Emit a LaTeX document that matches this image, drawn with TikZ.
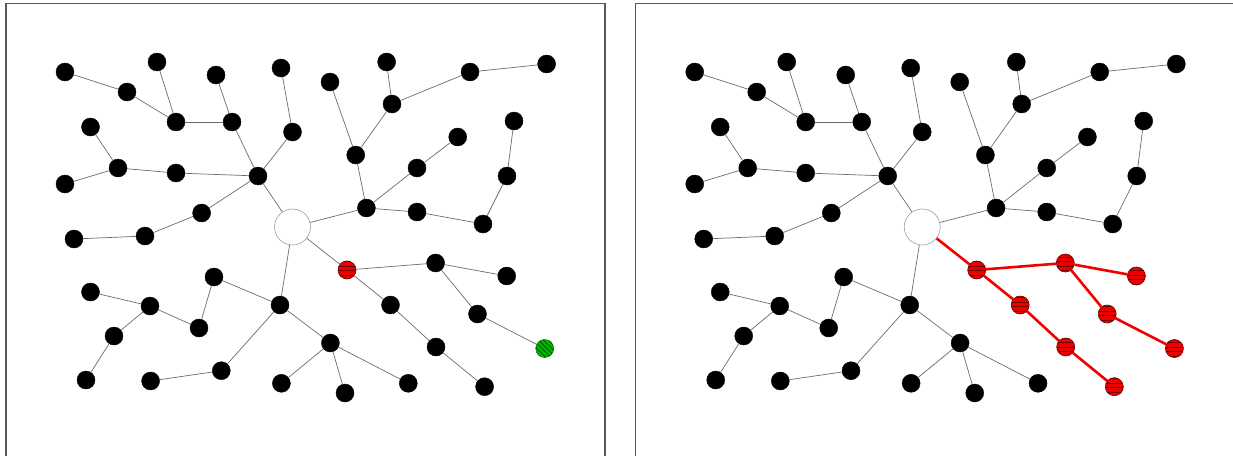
\documentclass[tikz,border=0pt]{standalone}
\usetikzlibrary{patterns.meta}
\begin{document}
\begin{tikzpicture}[x=1pt,y=-1pt,
  blk/.style={circle,fill=black,draw=black,inner sep=0pt,minimum size=18pt},
  rednode/.style={circle,draw=red!40!black,line width=0.6pt,fill=red!92!black,inner sep=0pt,minimum size=18pt,
    postaction={pattern={Lines[angle=0,distance=4.5pt,line width=0.8pt]},pattern color=red!45!black}},
  greennode/.style={circle,draw=green!45!black,line width=0.5pt,fill=green!72!black,inner sep=0pt,minimum size=18pt,
    postaction={pattern={Lines[angle=-45,distance=3.5pt,line width=0.9pt]},pattern color=green!35!black}},
  hub/.style={circle,draw=gray!75,fill=white,inner sep=0pt,minimum size=36pt,line width=0.6pt},
  edge/.style={draw=gray!85!black,line width=0.7pt},
  redge/.style={draw=red!95!black,line width=2.6pt},
  frame/.style={draw=black!65,line width=1.3pt}
]
\useasboundingbox (0,0) rectangle (1233,455);
\clip (0,0) rectangle (1233,455);
\fill[white] (0,0) rectangle (1233,455);

\def\commonnodes{1/65/72,2/127/92,3/157/62,4/216/75,5/281/68,6/330/82,7/386.6/62,8/470/72,9/546.6/64,
10/176/122,11/232/122,12/292.5/132,13/392/104,14/90.5/127,15/118/168,16/176/173,17/258/176,18/355.7/155,
19/457.7/137,20/514/121,21/65/184,22/417/168,23/507/176,24/201.6/213,25/366.4/208,26/417/212,27/483/224,
28/74/239,29/145/236,34/90.5/292,35/150/306,36/214/277,37/280/305,38/199/328,41/114/336,42/330.4/343,
45/86/380,46/150.6/381,47/221.3/370.7,48/281.4/383.3,49/345/393,50/408.3/383.3}
\def\subnodes{32/435.6/263,33/506.7/276,39/390.5/305,40/477.5/314,43/436/347,51/484.6/386.7}
\def\commonedges{1/2,2/10,3/10,10/11,4/11,11/17,5/12,12/17,17/16,16/15,15/14,15/21,17/24,24/29,29/28,17/30,
30/25,25/18,18/6,18/13,13/7,13/8,8/9,25/22,22/19,25/26,26/27,27/23,23/20,
30/37,37/36,36/38,38/35,35/34,35/41,41/45,37/47,47/46,37/42,42/48,42/49,42/50}
\def\subedges{30/31,31/32,32/33,32/40,40/44,31/39,39/43,43/51}

% left panel
\draw[frame] (6,3.5) rectangle (605,480);
\begin{scope}[name prefix=L-]
  \node[hub] (n30) at (292.5,227) {};
  \foreach \n/\x/\y in \commonnodes {\node[blk] (n\n) at (\x,\y) {};}
  \foreach \n/\x/\y in \subnodes {\node[blk] (n\n) at (\x,\y) {};}
  \node[rednode] (n31) at (347,270) {};
  \node[greennode] (n44) at (544.7,348.5) {};
  \foreach \a/\b in \commonedges {\draw[edge] (n\a) -- (n\b);}
  \foreach \a/\b in \subedges {\draw[edge] (n\a) -- (n\b);}
\end{scope}

% right panel
\draw[frame] (635.5,3.5) rectangle (1250,480);
\begin{scope}[xshift=629.7pt,name prefix=R-]
  \node[hub] (n30) at (292.5,227) {};
  \foreach \n/\x/\y in \commonnodes {\node[blk] (n\n) at (\x,\y) {};}
  \foreach \n/\x/\y in \subnodes {\node[rednode] (n\n) at (\x,\y) {};}
  \node[rednode] (n31) at (347,270) {};
  \node[rednode] (n44) at (544.7,348.5) {};
  \foreach \a/\b in \commonedges {\draw[edge] (n\a) -- (n\b);}
  \foreach \a/\b in \subedges {\draw[redge] (n\a) -- (n\b);}
\end{scope}
\end{tikzpicture}
\end{document}
